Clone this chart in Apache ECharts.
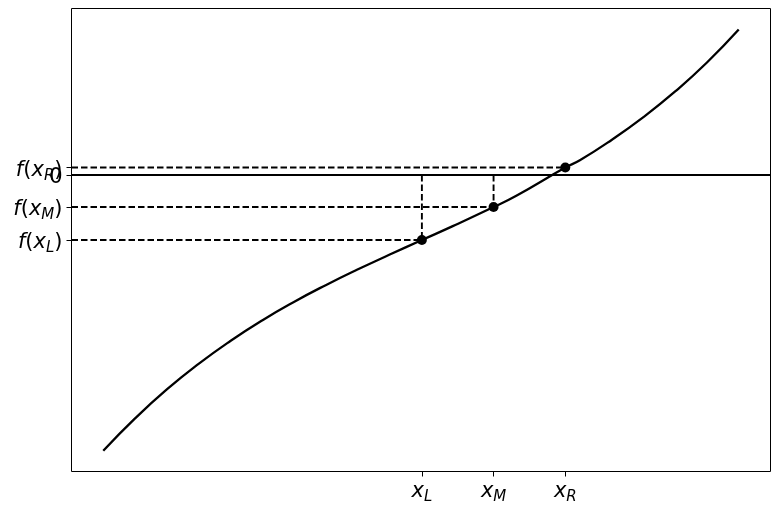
<!DOCTYPE html>
<html>
<head>
<meta charset="utf-8">
<script src="https://cdn.jsdelivr.net/npm/echarts@6/dist/echarts.min.js"></script>
<style>
html,body{margin:0;padding:0;background:#fff;}
#chart{width:779px;height:514px;}
</style>
</head>
<body>
<div id="chart"></div>
<script>
// curve samples
const curveX = [0, 0.5, 1.0, 1.5, 2.0, 2.5, 3.0, 3.5, 4.0, 4.5, 5.014, 5.5, 6.142, 6.5, 7.271, 7.5, 8.0, 8.5, 9.0, 9.5, 10];
const curveY = [-6.571, -5.8, -5.11, -4.5, -3.955, -3.464, -3.024, -2.624, -2.252, -1.9, -1.548, -1.217, -0.762, -0.493, 0.179, 0.352, 0.838, 1.381, 1.993, 2.683, 3.469];
// bisection points x_L, x_M, x_R
const pointX = [5.014, 6.142, 7.271];
const pointY = [-1.548, -0.762, 0.179];
const subNames = ['L', 'M', 'R'];
const zeroLevel = 0;

const FONT = 'DejaVu Sans';
const chart = echarts.init(document.getElementById('chart'), null, {renderer: 'canvas'});

function nearestIndex(arr, v) {
  let best = 0, bd = Infinity;
  arr.forEach((a, i) => { const d = Math.abs(a - v); if (d < bd) { bd = d; best = i; } });
  return best;
}

const rich = {
  i: {fontFamily: FONT, fontSize: 21, fontStyle: 'italic', color: '#000', lineHeight: 32},
  r: {fontFamily: FONT, fontSize: 21, color: '#000', lineHeight: 32},
  s: {fontFamily: FONT, fontSize: 15, fontStyle: 'italic', color: '#000', padding: [12, 0, 0, 0]},
  n: {fontFamily: FONT, fontSize: 21, color: '#000', lineHeight: 32}
};

const series = [];
series.push({
  type: 'line', data: curveX.map((x, i) => [x, curveY[i]]),
  smooth: 0.5, showSymbol: false, symbol: 'none',
  lineStyle: {color: '#000', width: 2.3}, z: 2,
  markLine: {
    silent: true, symbol: 'none', animation: false,
    label: {show: false},
    lineStyle: {type: 'solid', color: '#000', width: 1.8},
    data: [{yAxis: zeroLevel}]
  }
});
pointX.forEach((x, i) => {
  series.push({
    type: 'line', data: [[-0.5, pointY[i]], [x, pointY[i]]],
    showSymbol: false, symbol: 'none',
    lineStyle: {color: '#000', width: 1.9, type: [6.5, 3]}, z: 3
  });
});
[0, 1].forEach(i => {
  series.push({
    type: 'line', data: [[pointX[i], zeroLevel], [pointX[i], pointY[i]]],
    showSymbol: false, symbol: 'none',
    lineStyle: {color: '#000', width: 1.9, type: [6.5, 3]}, z: 3
  });
});
series.push({
  type: 'scatter', data: pointX.map((x, i) => [x, pointY[i]]),
  symbolSize: 10, itemStyle: {color: '#000', opacity: 1}, z: 5
});

const yMin = -7.066, yMax = 3.971;
const option = {
  animation: false,
  backgroundColor: '#fff',
  grid: {left: 71.5, right: 8.5, top: 8.5, bottom: 42.5, show: true, borderColor: '#000', borderWidth: 1, backgroundColor: 'transparent'},
  xAxis: {
    type: 'value', min: -0.5, max: 10.5,
    splitLine: {show: false}, axisLine: {show: false, onZero: false},
    axisTick: {show: true, customValues: pointX, length: 5, lineStyle: {color: '#000', width: 1}},
    axisLabel: {
      customValues: pointX, margin: 4, hideOverlap: false,
      formatter: v => '{i|x}{s|' + subNames[nearestIndex(pointX, v)] + '}',
      rich: rich
    }
  },
  yAxis: [{
    type: 'value', min: yMin, max: yMax,
    splitLine: {show: false}, axisLine: {show: false, onZero: false},
    axisTick: {show: true, customValues: pointY, length: 5, lineStyle: {color: '#000', width: 1}},
    axisLabel: {
      customValues: pointY, margin: 9, hideOverlap: false, padding: [5, 0, 0, 0],
      formatter: v => '{i|f}{r|(}{i|x}{s|' + subNames[nearestIndex(pointY, v)] + '}{r|)}',
      rich: rich
    }
  }, {
    type: 'value', min: yMin, max: yMax, position: 'left', offset: 0,
    splitLine: {show: false}, axisLine: {show: false, onZero: false},
    axisTick: {show: true, customValues: [zeroLevel], length: 5, lineStyle: {color: '#000', width: 1}},
    axisLabel: {
      customValues: [zeroLevel], margin: 9, hideOverlap: false, padding: [4, 0, 0, 0],
      formatter: () => '{n|0}',
      rich: rich
    }
  }],
  series: series
};
chart.setOption(option);
</script>
</body>
</html>
